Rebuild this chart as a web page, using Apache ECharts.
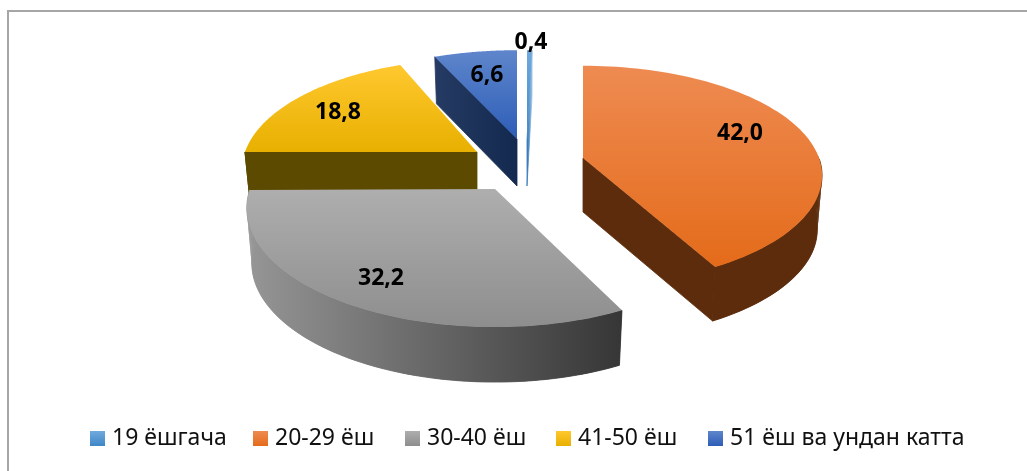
<!DOCTYPE html>
<html>
<head>
<meta charset="utf-8">
<title>Ёш гуруҳлари</title>
<style>
html, body { margin: 0; padding: 0; background: #fff; }
#main { width: 1027px; height: 471px; }
</style>
<script src="https://cdn.jsdelivr.net/npm/echarts@6/dist/echarts.min.js"></script>
</head>
<body>
<div id="main"></div>
<script>
var categories = ['19 ёшгача', '20-29 ёш', '30-40 ёш', '41-50 ёш', '51 ёш ва ундан катта'];
var shares = [0.4, 42.0, 32.2, 18.8, 6.6];
var drawOrder = [3, 4, 0, 1, 2]; // back slices first, grey covers the yellow wall

// where each exploded slice sits on the page, and how it is foreshortened
var apexX = [527, 583, 495, 477, 517];
var apexY = [140, 158, 189, 152, 139];
var radiusX = [236, 236, 245, 232, 234];
var radiusY = [104, 107, 116, 108, 103];
var depth = [46, 54, 55, 45, 47];
var turn = [0, -1.44, 1, 1.44, 0];
var labelDX = [4, 157, -114, -139, -30];
var labelDY = [-98, -25, 89, -40, -64];
var legendLeft = [90, 253, 405, 556, 708];

var topColors = [['#70aadd', '#3f86c6'], ['#ee8b52', '#e46b1a'], ['#aeaeae', '#8e8e8e'], ['#ffc82f', '#e8b000'], ['#5f86cc', '#2d5db7']];
var wallColors = [['#2e75b6', '#9dc3e6'], ['#5c2c0c', '#5c2c0c'], ['#969696', '#363636'], ['#5c4a00', '#5c4a00'], ['#263b63', '#13294f']];
var tilt = 0.16;
var shrink = 0.98;

function grad(c) {
    return new echarts.graphic.LinearGradient(0, 0, 0, 1, [
        { offset: 0, color: c[0] },
        { offset: 1, color: c[1] }
    ]);
}

var total = shares.reduce(function (a, b) { return a + b; }, 0);

// angle of each slice, clockwise from the top
var starts = [];
var acc = 0;
shares.forEach(function (v) {
    starts.push(acc / total * 2 * Math.PI);
    acc += v;
});

function project(i, angle, low) {
    var X = Math.sin(angle);
    var Y = -Math.cos(angle);
    var s = 1 / (1 - tilt * Y);
    var sx = low ? shrink : 1;
    return [
        apexX[i] + radiusX[i] * X * s * sx,
        apexY[i] + radiusY[i] * Y * s + (low ? depth[i] : 0)
    ];
}

function renderSlice(i) {
    return function (params, api) {
        var a0 = starts[i] + turn[i] * Math.PI / 180;
        var a1 = a0 + api.value(0) / total * 2 * Math.PI;
        var upper = [];
        var lower = [];
        var front = [];
        var nearUpper = [];
        var nearLower = [];
        for (var n = 0; n <= 80; n++) {
            var a = a0 + (a1 - a0) * n / 80;
            upper.push(project(i, a, false));
            lower.push(project(i, a, true));
            front.push(-Math.cos(a) > 0);
            if (front[n]) {
                nearUpper.push(upper[n]);
                nearLower.push(lower[n]);
            }
        }
        var top = [apexX[i], apexY[i]];
        var bottom = [apexX[i], apexY[i] + depth[i]];
        // one horizontal shade across all the wall pieces of the slice
        var xs = upper.map(function (p) { return p[0]; }).concat(top[0]);
        var wall = new echarts.graphic.LinearGradient(Math.min.apply(null, xs), 0, Math.max.apply(null, xs), 0, [
            { offset: 0, color: wallColors[i][0] },
            { offset: 1, color: wallColors[i][1] }
        ], true);
        var wallStyle = { fill: wall, stroke: wall, lineWidth: 0.8 };
        var children = [];
        // only the rim on the near half of the disc can be seen
        if (nearUpper.length) {
            children.push({ type: 'polygon', shape: { points: nearUpper.concat(nearLower.slice().reverse()) }, style: wallStyle });
        }
        // strips fill the tangent between upper and lower rim at the side of the disc
        for (var q = 0; q < 80; q++) {
            if (front[q] || front[q + 1]) {
                children.push({ type: 'polygon', shape: { points: [upper[q], upper[q + 1], lower[q + 1], lower[q]] }, style: { fill: wall } });
            }
        }
        // same for the two cut faces
        if (-Math.sin(a0) > 0) {
            children.push({ type: 'polygon', shape: { points: [top, upper[0], lower[0], bottom] }, style: wallStyle });
        }
        if (Math.sin(a1) > 0) {
            children.push({ type: 'polygon', shape: { points: [top, upper[80], lower[80], bottom] }, style: wallStyle });
        }
        children.push(
            { type: 'polygon', shape: { points: [top].concat(upper) }, style: { fill: grad(topColors[i]) } },
            {
                type: 'text',
                x: apexX[i] + labelDX[i],
                y: apexY[i] + labelDY[i],
                style: {
                    text: api.value(0).toFixed(1).replace('.', ','),
                    font: 'bold 23px "Noto Sans", sans-serif',
                    fill: '#000',
                    align: 'center',
                    verticalAlign: 'middle'
                }
            }
        );
        return { type: 'group', children: children };
    };
}

var series = drawOrder.map(function (i, n) {
    return {
        name: categories[i],
        type: 'custom',
        coordinateSystem: 'none',
        silent: true,
        z: 2 + n,
        itemStyle: { color: grad(topColors[i]) },
        renderItem: renderSlice(i),
        data: [[shares[i]]]
    };
});

// one legend per entry so each can sit where the reference has it
var legends = categories.map(function (name, i) {
    return {
        data: [name],
        left: legendLeft[i],
        top: 427,
        padding: 0,
        itemWidth: 15,
        itemHeight: 15,
        icon: 'rect',
        selectedMode: false,
        formatter: '{t|{name}}',
        textStyle: {
            rich: { t: { fontFamily: '"Noto Sans", sans-serif', fontSize: 23, color: '#111', padding: [0, 0, 0, 2] } }
        }
    };
});

var option = {
    animation: false,
    legend: legends,
    graphic: [{
        type: 'polyline',
        silent: true,
        shape: { points: [[8, 471], [8, 11], [1027, 11]] },
        style: { fill: null, stroke: '#a6a6a6', lineWidth: 2 }
    }],
    series: series
};

var myChart = echarts.init(document.getElementById('main'));
myChart.setOption(option);
</script>
</body>
</html>
